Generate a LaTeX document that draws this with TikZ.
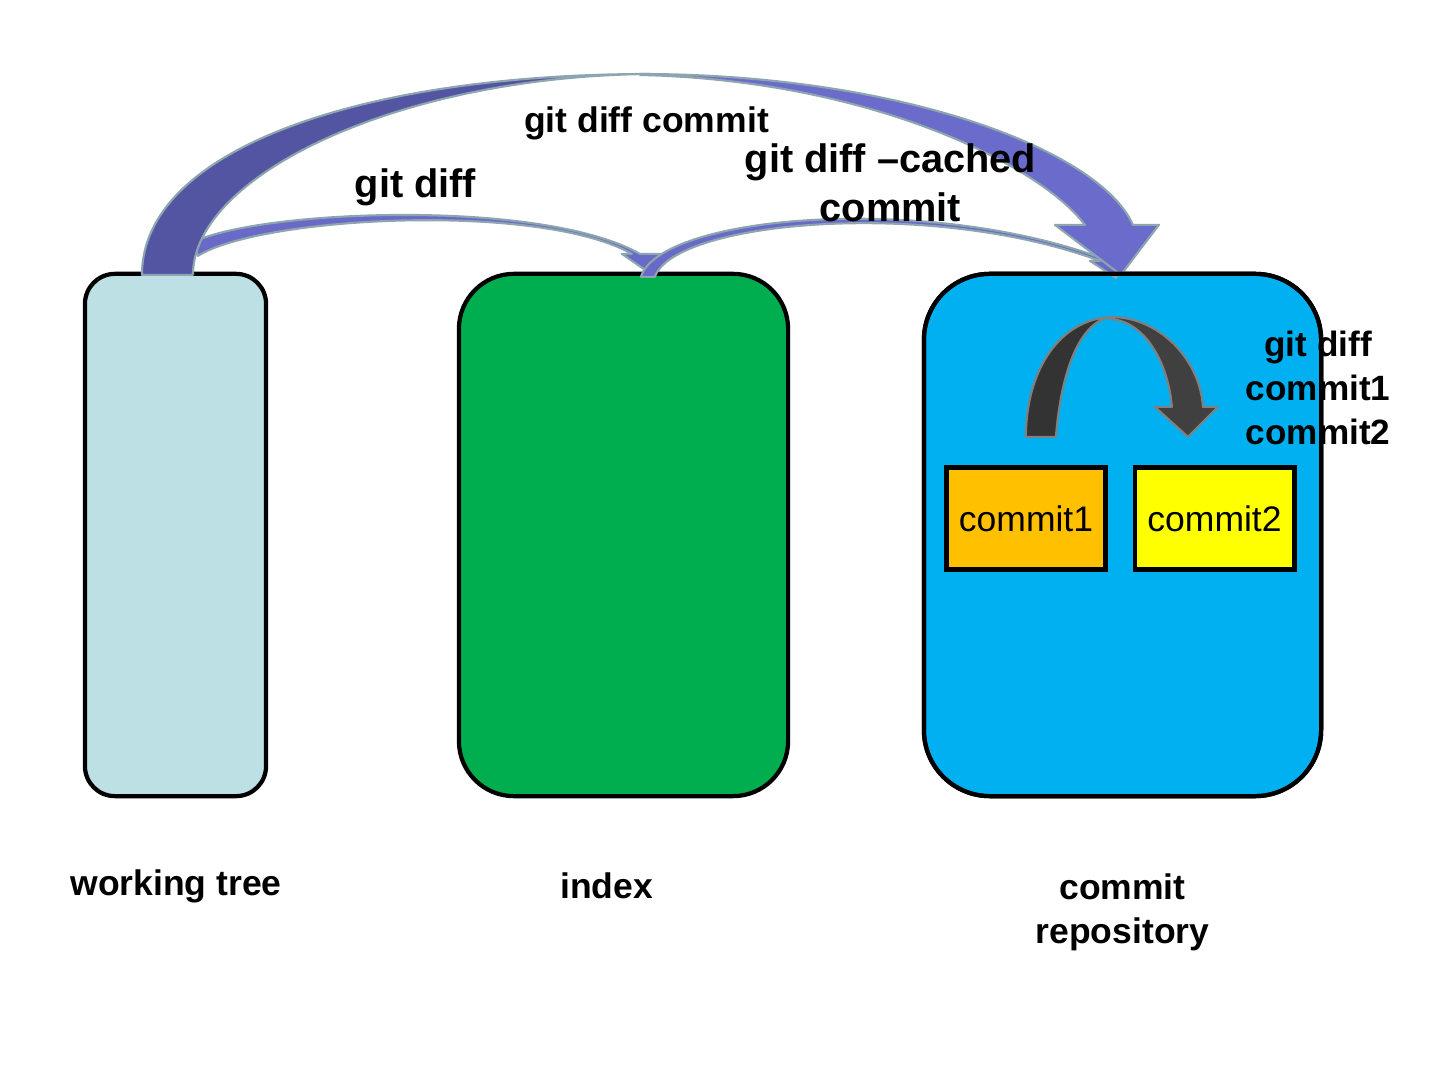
\documentclass[tikz,border=0pt]{standalone}
\usepackage{fontspec}
\setmainfont{Liberation Sans}
\usepackage{xcolor}
\usepackage{tikz}
\usetikzlibrary{positioning,calc}

\definecolor{wtfill}{RGB}{188,224,227}
\definecolor{idxfill}{RGB}{0,173,79}
\definecolor{repofill}{RGB}{0,176,240}
\definecolor{cafill}{RGB}{255,192,0}
\definecolor{cbfill}{RGB}{255,255,0}
\definecolor{backpurple}{RGB}{83,85,163}
\definecolor{frontpurple}{RGB}{107,107,204}
\definecolor{thinpurple}{RGB}{105,105,200}
\definecolor{edgegray}{RGB}{140,165,175}
\definecolor{backgray}{RGB}{51,51,51}
\definecolor{frontgray}{RGB}{64,64,64}

\begin{document}
\begin{tikzpicture}[x=0.01cm, y=-0.01cm,
    box/.style={draw, line width=1.2pt, rectangle, outer sep=0pt, minimum height=5.22cm},
    cbox/.style={draw, line width=1.4pt, rectangle, minimum width=1.59cm, minimum height=1.02cm, font=\fontsize{10.1}{12}\selectfont},
    lbl/.style={font=\bfseries\fontsize{10.1}{12.5}\selectfont, align=center, inner sep=0pt},
    biglbl/.style={font=\bfseries\fontsize{11.3}{13.9}\selectfont, align=center, inner sep=0pt},
    band/.style={draw=edgegray, line width=0.6pt, line join=round},
    grayband/.style={draw=gray, line width=0.6pt, line join=round}]
    \useasboundingbox (0,0) rectangle (1440,1080);

    \node[box, fill=wtfill, minimum width=1.81cm, rounded corners=0.3cm] (wt) at (175.5,535) {};
    \node[box, fill=idxfill, minimum width=3.29cm, rounded corners=0.55cm] (idx) at (623.5,535) {};
    \node[box, fill=repofill, minimum width=3.97cm, rounded corners=0.66cm] (repo) at (1122.5,535) {};
    \node[cbox, fill=cafill] (c1) at (1026,518.5) {commit1};
    \node[cbox, fill=cbfill] (c2) at (1214.5,518.5) {commit2};

    \coordinate (bigL) at ($(wt.north west)+(57,1)$);
    \coordinate (bigR) at ($(wt.north west)+(108,1)$);
    \coordinate (bigtip) at ($(repo.north west)+(197,1)$);
    \coordinate (thinAstart) at ($(wt.north west)+(109,-32)$);
    \coordinate (thinAtip) at ($(idx.north west)+(189,-2)$);
    \coordinate (thinBstart) at ($(idx.north west)+(182,3)$);
    \coordinate (thinBtip) at ($(repo.north west)+(192,4)$);
    \coordinate (rstart) at ($(repo.north west)+(102,163)$);
    \coordinate (rtip) at ($(repo.north west)+(264,163)$);

    \filldraw[band, fill=thinpurple] (thinAstart) .. controls (260,210) and (540,198) .. ($(thinAtip)+(-8,-18)$)
        -- ($(thinAtip)+(12,-18)$) -- (thinAtip) -- ($(thinAtip)+(-26,-18)$) -- ($(thinAtip)+(-16,-18)$)
        .. controls (540,202) and (262,216) .. ($(thinAstart)+(4,14)$) -- cycle;
    \filldraw[band, fill=thinpurple] (thinBstart) .. controls (660,215) and (930,192) .. ($(thinBtip)+(-7,-17)$)
        -- ($(thinBtip)+(9,-17)$) -- (thinBtip) -- ($(thinBtip)+(-26,-17)$) -- ($(thinBtip)+(-16,-17)$)
        .. controls (930,198) and (674,221) .. ($(thinBstart)+(14,0)$) -- cycle;

    \filldraw[band, fill=backpurple] (bigL) .. controls (142,150) and (360,74) .. (650,74)
        .. controls (400,76) and (193,175) .. (bigR) -- cycle;
    \filldraw[band, fill=frontpurple] (640,74) .. controls (900,74) and (1100,150) .. ($(bigtip)+(12,-50)$)
        -- ($(bigtip)+(38,-50)$) -- (bigtip) -- ($(bigtip)+(-66,-50)$) -- ($(bigtip)+(-36,-50)$)
        .. controls (1040,165) and (870,80) .. (640,75) -- cycle;

    \filldraw[grayband, fill=backgray] (rstart) .. controls (1026,370) and (1060,318) .. (1113,317)
        .. controls (1085,318) and (1062,360) .. ($(rstart)+(30,0)$) -- cycle;
    \filldraw[grayband, fill=frontgray] (1113,317) .. controls (1160,318) and (1200,360) .. ($(rtip)+(15,-30)$)
        -- ($(rtip)+(30,-30)$) -- (rtip) -- ($(rtip)+(-33,-30)$) -- ($(rtip)+(-16,-30)$)
        .. controls (1168,362) and (1145,322) .. (1111,319) -- cycle;

    \node[lbl] (wtlbl) at (176,886) {working tree};
    \node[lbl] (idxlbl) at (606.5,886) {index};
    \node[lbl] (repolbl) at (1122.5,912) {commit\\repository};
    \node[lbl] (commitlbl) at (646.5,123) {git diff commit};
    \node[biglbl] (difflbl) at (415.5,187) {git diff};
    \node[biglbl] (cachedlbl) at (890.5,183) {git diff –cached\\commit};
    \node[lbl, font=\bfseries\fontsize{10}{12.4}\selectfont] (cclbl) at (1318,388) {git diff\\commit1\\commit2};

    \draw[line width=1.2pt, rounded corners=0.66cm] (repo.south west) rectangle (repo.north east);
\end{tikzpicture}
\end{document}
